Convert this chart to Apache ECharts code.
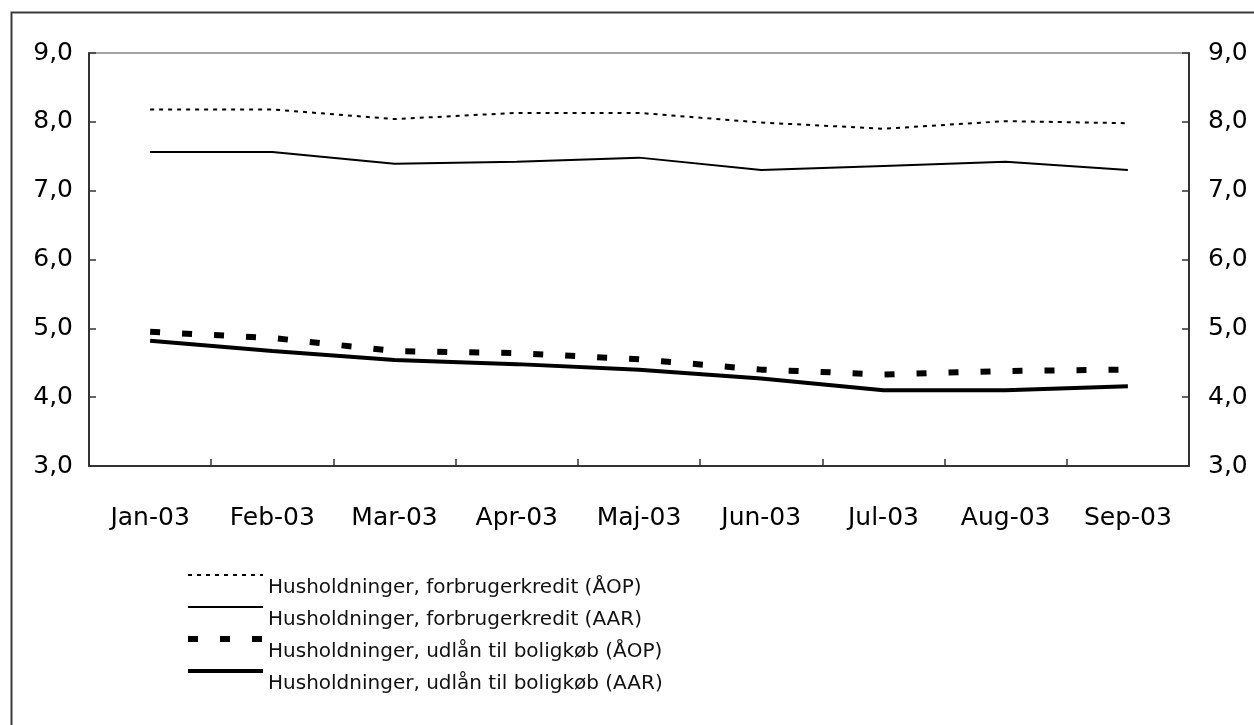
<!DOCTYPE html>
<html>
<head>
<meta charset="utf-8">
<script src="https://cdn.jsdelivr.net/npm/echarts@6/dist/echarts.min.js"></script>
<style>html,body{margin:0;padding:0;background:#fff;}#c{width:1254px;height:725px;}</style>
</head>
<body>
<div id="c"></div>
<script>
const categories = ['Jan-03','Feb-03','Mar-03','Apr-03','Maj-03','Jun-03','Jul-03','Aug-03','Sep-03'];
const forbrugAOP = [8.18, 8.18, 8.04, 8.13, 8.13, 7.99, 7.90, 8.01, 7.98];
const forbrugAAR = [7.56, 7.56, 7.39, 7.42, 7.48, 7.30, 7.36, 7.42, 7.30];
const boligAOP = [4.95, 4.86, 4.67, 4.64, 4.55, 4.40, 4.33, 4.38, 4.40];
const boligAAR = [4.82, 4.67, 4.54, 4.48, 4.40, 4.27, 4.10, 4.10, 4.16];
const seriesNames = [
  'Husholdninger, forbrugerkredit (ÅOP)',
  'Husholdninger, forbrugerkredit (AAR)',
  'Husholdninger, udlån til boligkøb (ÅOP)',
  'Husholdninger, udlån til boligkøb (AAR)'
];

const FONT = 'DejaVu Sans';
const fmt = v => v.toFixed(1).replace('.', ',');
const lineStyles = [
  {color: '#000', width: 2, type: [4, 5], cap: 'butt'},
  {color: '#000', width: 2, type: 'solid'},
  {color: '#000', width: 6, type: [10, 22], cap: 'butt'},
  {color: '#000', width: 4, type: 'solid'}
];
const chart = echarts.init(document.getElementById('c'), null, {renderer: 'canvas'});
const yAxisBase = {
  type: 'value', min: 3, max: 9, interval: 1,
  axisLine: {show: true, lineStyle: {color: '#333', width: 2}},
  axisTick: {show: true, inside: true, length: 7, lineStyle: {color: '#333', width: 1.5}},
  splitLine: {show: false},
  axisLabel: {color: '#000', fontFamily: FONT, fontSize: 25, formatter: fmt}
};
chart.setOption({
  animation: false,
  backgroundColor: '#fff',
  textStyle: {fontFamily: FONT},
  graphic: [{
    type: 'rect', left: 9, top: 10, z: 0, silent: true,
    shape: {width: 1400, height: 900},
    style: {fill: 'none', stroke: '#3a3a3a', lineWidth: 2}
  }],
  grid: {left: 89, right: 65, top: 53, bottom: 259, show: true, borderColor: '#888', borderWidth: 1.5, backgroundColor: 'transparent'},
  legend: {
    orient: 'vertical', left: 185, top: 549, padding: 0,
    itemWidth: 75, itemHeight: 14, itemGap: -20,
    itemStyle: {opacity: 0},
    formatter: name => '\n' + name,
    textStyle: {color: '#111', fontFamily: FONT, fontSize: 20, lineHeight: 26},
    data: seriesNames.map((n, i) => ({name: n, itemStyle: {opacity: 0}, lineStyle: lineStyles[i]}))
  },
  xAxis: {
    type: 'category', data: categories, boundaryGap: true,
    axisLine: {show: true, lineStyle: {color: '#333', width: 2}},
    axisTick: {show: true, inside: true, length: 7, lineStyle: {color: '#333', width: 1.5}},
    axisLabel: {color: '#000', fontFamily: FONT, fontSize: 25, margin: 40, interval: 0}
  },
  yAxis: [
    Object.assign({}, yAxisBase, {position: 'left', axisLabel: Object.assign({}, yAxisBase.axisLabel, {margin: 16})}),
    Object.assign({}, yAxisBase, {position: 'right', axisLabel: Object.assign({}, yAxisBase.axisLabel, {margin: 19})})
  ],
  series: [
    {name: seriesNames[0], type: 'line', data: forbrugAOP, symbol: 'none', color: '#000', lineStyle: lineStyles[0]},
    {name: seriesNames[1], type: 'line', data: forbrugAAR, symbol: 'none', color: '#000', lineStyle: lineStyles[1]},
    {name: seriesNames[2], type: 'line', data: boligAOP, symbol: 'none', color: '#000', lineStyle: lineStyles[2]},
    {name: seriesNames[3], type: 'line', data: boligAAR, symbol: 'none', color: '#000', lineStyle: lineStyles[3]}
  ]
});
</script>
</body>
</html>
